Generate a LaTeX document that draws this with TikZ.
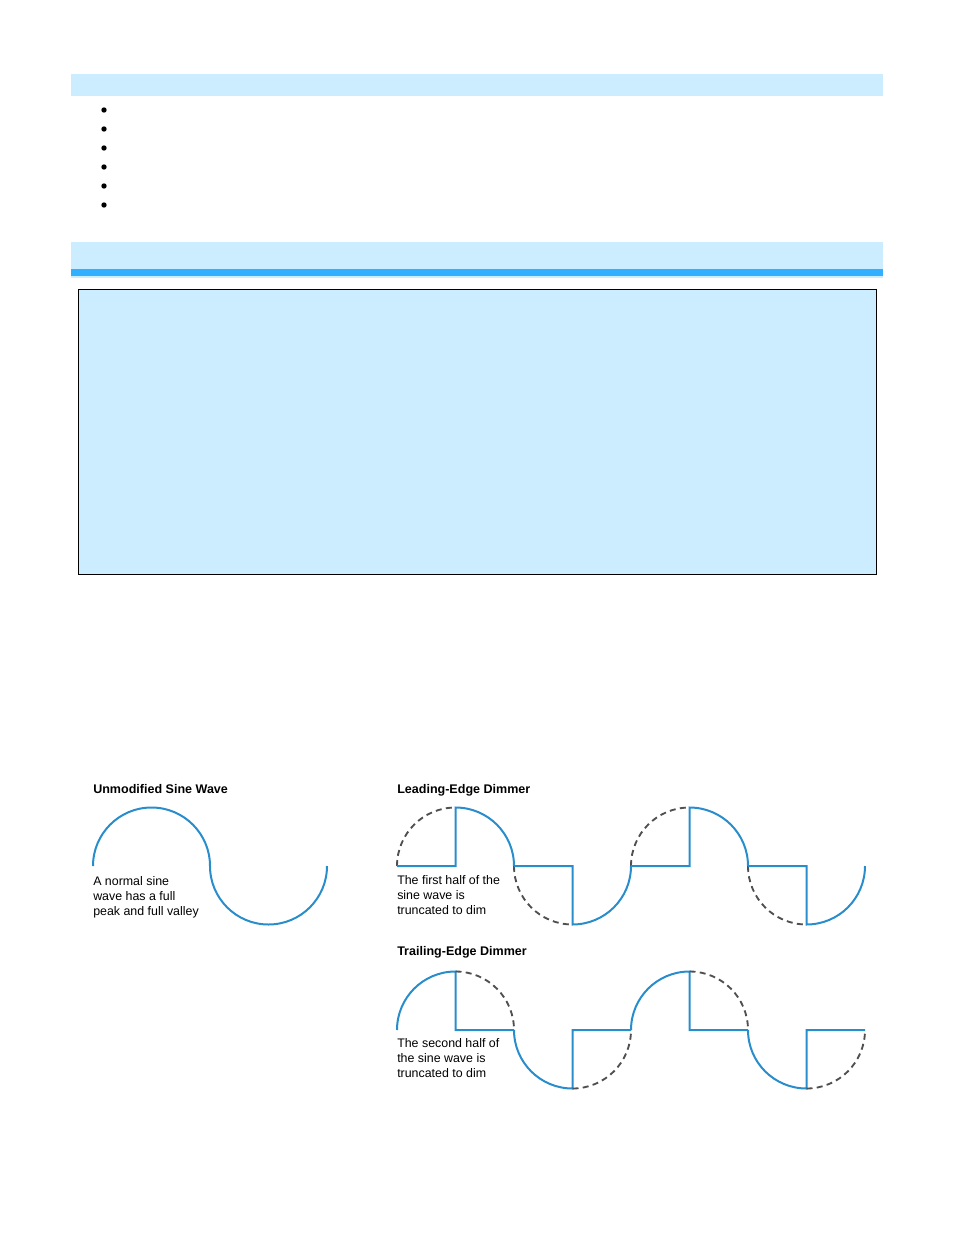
\documentclass[tikz,border=0pt]{standalone}
\usepackage{fontspec}
\setmainfont{Liberation Sans}
\usetikzlibrary{positioning}
\definecolor{paleblue}{RGB}{204,236,255}
\definecolor{stripeblue}{RGB}{51,175,255}
\definecolor{waveblue}{RGB}{41,141,204}
\definecolor{cutgrey}{RGB}{80,80,80}

\begin{document}
\begin{tikzpicture}[x=0.75pt,y=-0.75pt,
  band/.style={fill=paleblue,draw=none},
  wave/.style={draw=waveblue,line width=1.5pt,line join=miter},
  cut/.style={draw=cutgrey,line width=1.4pt,dash pattern=on 4.5pt off 3.2pt},
  ttl/.style={font=\fontsize{9.4}{11}\selectfont\bfseries,inner sep=0pt,anchor=base west},
  note/.style={font=\fontsize{9.3}{11.3}\selectfont,inner sep=0pt,anchor=north west,align=left}]
  \useasboundingbox (0,0) rectangle (954,1235);
  % header bands and box
  \fill[band] (71,74) rectangle (883,96);
  \foreach \y in {110,129,148,167,186,205}
    \fill (104,\y) circle[radius=2.7];
  \fill[band] (71,242) rectangle (883,269);
  \fill[stripeblue] (71,269) rectangle (883,276);
  \fill[band] (71,276) rectangle (883,278);
  \draw[fill=paleblue,line width=0.6pt] (78,289) rectangle (876,574);
  % unmodified sine wave
  \node[ttl] (unmodTitle) at (93,793) {Unmodified Sine Wave};
  \draw[wave] (93,866) arc[start angle=180,end angle=360,radius=58.5]
    arc[start angle=180,end angle=0,radius=58.5];
  \node[note] (unmodNote) at (93,876) {A normal sine\\wave has a full\\peak and full valley};
  % leading-edge dimmer
  \node[ttl] (leadTitle) at (397,793) {Leading-Edge Dimmer};
  \foreach \x in {397,631}{
    \draw[cut] (\x,866) arc[start angle=180,end angle=270,radius=58.5];
    \draw[wave] (\x,866) -- ++(58.5,0) -- ++(0,-58.5)
      arc[start angle=270,end angle=360,radius=58.5];
    \draw[cut] (\x+117,866) arc[start angle=180,end angle=90,radius=58.5];
    \draw[wave] (\x+117,866) -- ++(58.5,0) -- ++(0,58.5)
      arc[start angle=90,end angle=0,radius=58.5];
  }
  \node[note] (leadNote) at (397,875) {The first half of the\\sine wave is\\truncated to dim};
  % trailing-edge dimmer
  \node[ttl] (trailTitle) at (397,955) {Trailing-Edge Dimmer};
  \foreach \x in {397,631}{
    \draw[wave] (\x,1030) arc[start angle=180,end angle=270,radius=58.5]
      -- ++(0,58.5) -- ++(58.5,0);
    \draw[cut] (\x+58.5,971.5) arc[start angle=270,end angle=360,radius=58.5];
    \draw[wave] (\x+117,1030) arc[start angle=180,end angle=90,radius=58.5]
      -- ++(0,-58.5) -- ++(58.5,0);
    \draw[cut] (\x+175.5,1088.5) arc[start angle=90,end angle=0,radius=58.5];
  }
  \node[note] (trailNote) at (397,1038) {The second half of\\the sine wave is\\truncated to dim};
\end{tikzpicture}
\end{document}
